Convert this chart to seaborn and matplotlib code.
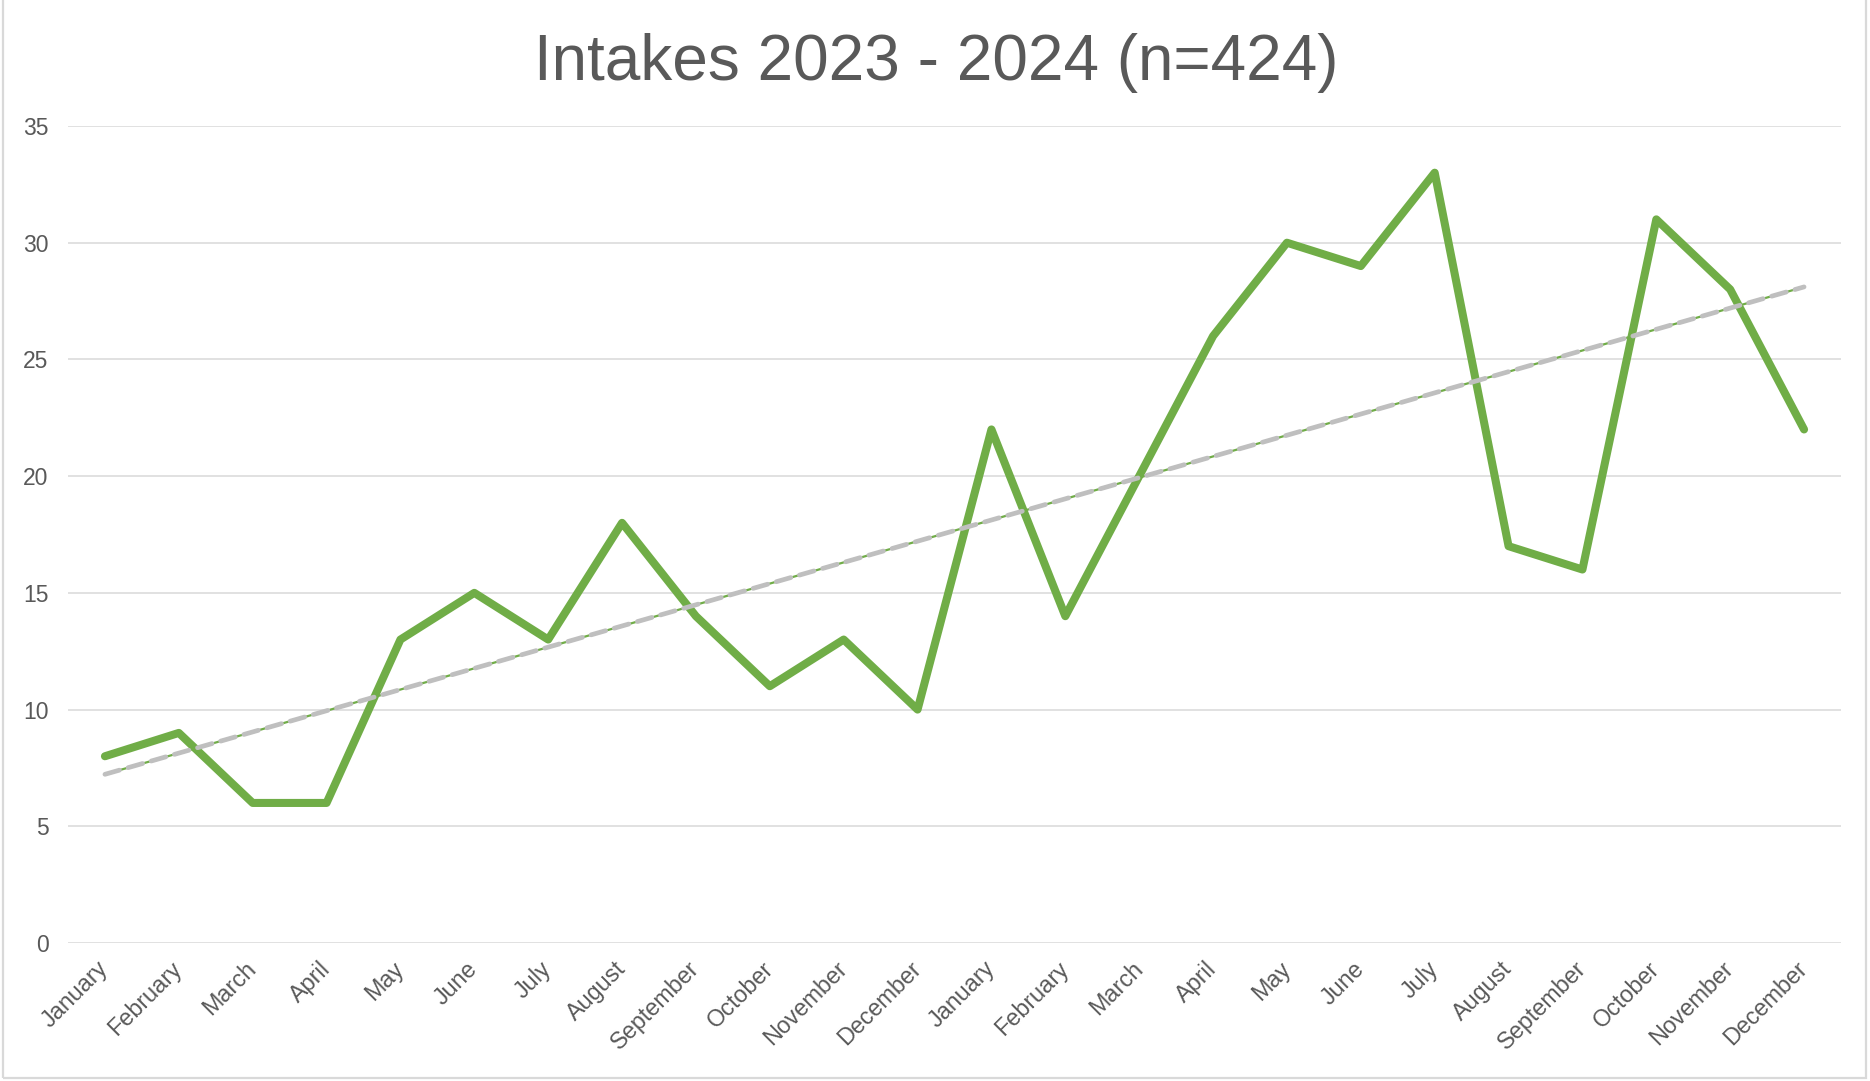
import numpy as np
import pandas as pd
import seaborn as sns
import matplotlib.pyplot as plt
from matplotlib.patches import Rectangle

# Data
months = ["January", "February", "March", "April", "May", "June", "July",
          "August", "September", "October", "November", "December"]
labels = months + months  # 2023 then 2024
intakes = [8, 9, 6, 6, 13, 15, 13, 18, 14, 11, 13, 10,
           22, 14, 20, 26, 30, 29, 33, 17, 16, 31, 28, 22]
y_ticks = [0, 5, 10, 15, 20, 25, 30, 35]
title = "Intakes 2023 - 2024 (n=424)"

GREEN = "#70AD47"
GREY_TEXT = "#595959"
GRID = "#D9D9D9"

sns.set_theme(style="white")
plt.rcParams['font.family'] = ['Liberation Sans', 'DejaVu Sans']

df = pd.DataFrame({"idx": np.arange(len(intakes)), "month": labels, "intakes": intakes})

W, H = 1870, 1081
fig = plt.figure(figsize=(W / 100, H / 100), dpi=100)
ax = fig.add_axes([68 / W, 1 - 943 / H, (1841 - 68) / W, (943 - 126) / H])

# main series
sns.lineplot(data=df, x="idx", y="intakes", ax=ax, color=GREEN, linewidth=5.8, zorder=5,
             solid_capstyle="round", solid_joinstyle="round")

# linear trendline: thin green underlay + grey rounded dashes on top
sns.regplot(data=df, x="idx", y="intakes", ax=ax, ci=None, scatter=False, truncate=True,
            color=GREEN)
sns.regplot(data=df, x="idx", y="intakes", ax=ax, ci=None, scatter=False, truncate=True,
            color="#BFBFBF")
trend_under, trend = ax.lines[-2], ax.lines[-1]
trend_under.set_linewidth(1.6)
trend_under.set_zorder(6)
trend.set_linewidth(3.4)
trend.set_linestyle((0, (3.2, 1.9)))
trend.set_dash_capstyle("round")
trend.set_zorder(7)

ax.set_xlim(-0.5, len(intakes) - 0.5)
ax.set_ylim(0, 35)
ax.set_yticks(y_ticks)
ax.set_xticks(df["idx"])
ax.set_xticklabels(labels, rotation=45, ha="right", va="center", rotation_mode="anchor")
ax.set_xlabel("")
ax.set_ylabel("")

ax.yaxis.grid(True, color=GRID, lw=1.1)
ax.xaxis.grid(False)
for s in ax.spines.values():
    s.set_visible(False)
ax.tick_params(axis="both", length=0, labelcolor=GREY_TEXT)
ax.tick_params(axis="y", pad=14, labelsize=16.5)
ax.tick_params(axis="x", pad=16, labelsize=16.8)

fig.text(936 / W, 1 - 80 / H, title, ha="center", va="baseline",
         fontsize=46, color=GREY_TEXT)

# chart area border
fig.patches.append(Rectangle((3 / W, 3 / H), (1866 - 3) / W, 1.2, transform=fig.transFigure,
                             fill=False, edgecolor=GRID, lw=1.6))

fig.savefig("out.png", dpi=100, facecolor="white")
